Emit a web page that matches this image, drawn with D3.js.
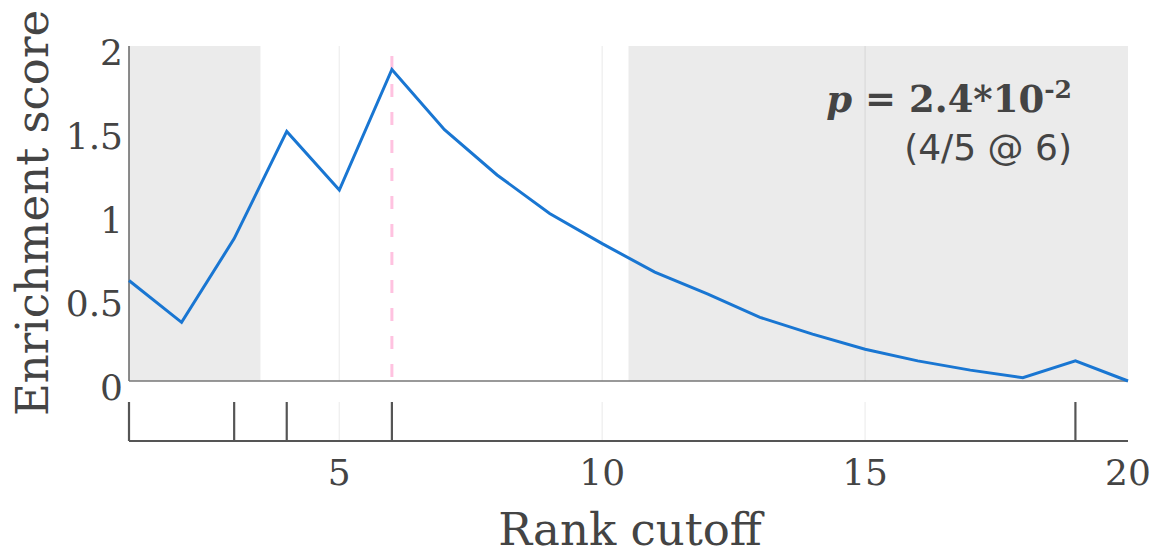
<!DOCTYPE html>
<html>
  <head>
    <meta charset="utf-8">
    <title>Enrichment score</title>
    <script src="https://cdn.jsdelivr.net/npm/d3@7"></script>
    <style>
      body { margin: 0; background: #fff; }
      text { font-family: "DejaVu Serif", serif; fill: #444; }
    </style>
  </head>
  <body>
    <svg id="chart" width="1153" height="550"></svg>
    <script>
      // data
      var ranks = d3.range(1, 21);
      var scores = [0.60, 0.35, 0.85, 1.49, 1.14, 1.86, 1.50, 1.23, 1.00, 0.82,
                    0.65, 0.52, 0.38, 0.28, 0.19, 0.12, 0.065, 0.02, 0.12, 0];
      var hits = [1, 3, 4, 6, 19];
      var shaded = [[1, 3.5], [10.5, 20]];
      var cutoff = 6;
      var xTicks = [5, 10, 15, 20];
      var yTicks = [0, 0.5, 1, 1.5, 2];

      var svg = d3.select("#chart");
      var plotLeft = 129, plotRight = 1128, plotTop = 46, plotBottom = 381;
      var rugTop = 402, rugBottom = 441;

      var x = d3.scaleLinear().domain([1, 20]).range([plotLeft, plotRight]);
      var y = d3.scaleLinear().domain([0, 2]).range([plotBottom, plotTop]);

      // shaded regions
      svg.selectAll(".shade")
        .data(shaded)
        .enter().append("rect")
          .attr("x", function(d) { return x(d[0]); })
          .attr("width", function(d) { return x(d[1]) - x(d[0]); })
          .attr("y", plotTop)
          .attr("height", plotBottom - plotTop)
          .style("fill", "#ebebeb");

      // vertical gridlines, plot and rug
      [[plotTop, plotBottom], [rugTop, rugBottom]].forEach(function(r) {
        svg.selectAll(null)
          .data(xTicks.slice(0, 3))
          .enter().append("line")
            .attr("x1", function(d) { return x(d); })
            .attr("x2", function(d) { return x(d); })
            .attr("y1", r[0])
            .attr("y2", r[1])
            .style("stroke", "rgba(0,0,0,0.06)")
            .style("stroke-width", 1.5);
      });

      // cutoff line
      svg.append("line")
        .attr("x1", x(cutoff)).attr("x2", x(cutoff))
        .attr("y1", plotTop + 10).attr("y2", plotBottom)
        .style("stroke", "#ffc2e0")
        .style("stroke-width", 3)
        .style("stroke-dasharray", "13,15");

      // axes lines
      svg.append("line")
        .attr("x1", plotLeft).attr("x2", plotLeft)
        .attr("y1", plotTop).attr("y2", plotBottom)
        .style("stroke", "#666").style("stroke-width", 1.5);
      svg.append("line")
        .attr("x1", plotLeft).attr("x2", plotRight)
        .attr("y1", y(0)).attr("y2", y(0))
        .style("stroke", "#777").style("stroke-width", 1.5);

      // score line
      svg.append("path")
        .datum(ranks)
        .attr("d", d3.line()
          .x(function(d) { return x(d); })
          .y(function(d, i) { return y(scores[i]); }))
        .style("fill", "none")
        .style("stroke", "#1976d2")
        .style("stroke-width", 3)
        .style("stroke-linejoin", "miter");

      // rug of hits
      svg.selectAll(".hit")
        .data(hits)
        .enter().append("line")
          .attr("x1", function(d) { return x(d); })
          .attr("x2", function(d) { return x(d); })
          .attr("y1", rugTop)
          .attr("y2", rugBottom)
          .style("stroke", "#555")
          .style("stroke-width", 2.2);
      svg.append("line")
        .attr("x1", plotLeft).attr("x2", plotRight)
        .attr("y1", rugBottom).attr("y2", rugBottom)
        .style("stroke", "#555").style("stroke-width", 2);

      // tick labels
      svg.selectAll(".ytick")
        .data(yTicks)
        .enter().append("text")
          .attr("x", 123)
          .attr("y", function(d) { return y(d) + 19; })
          .attr("text-anchor", "end")
          .style("font-size", "36px")
          .text(function(d) { return d; });
      svg.selectAll(".xtick")
        .data(xTicks)
        .enter().append("text")
          .attr("x", function(d) { return x(d); })
          .attr("y", 485)
          .attr("text-anchor", "middle")
          .style("font-size", "36px")
          .text(function(d) { return d; });

      // axis titles
      svg.append("text")
        .attr("transform", "translate(48,213) rotate(-90)")
        .attr("text-anchor", "middle")
        .style("font-size", "45px")
        .text("Enrichment score");
      svg.append("text")
        .attr("x", 630)
        .attr("y", 545)
        .attr("text-anchor", "middle")
        .style("font-size", "45px")
        .text("Rank cutoff");

      // annotation
      var ann = svg.append("text")
        .attr("x", 1072)
        .attr("y", 112)
        .attr("text-anchor", "end")
        .style("font-size", "37px")
        .style("font-weight", "bold");
      ann.append("tspan").style("font-style", "italic").text("p");
      ann.append("tspan").text(" = 2.4*10");
      ann.append("tspan")
        .attr("dy", "-0.55em")
        .style("font-size", "25px")
        .text("-2");
      svg.append("text")
        .attr("x", 1072)
        .attr("y", 160)
        .attr("text-anchor", "end")
        .style("font-family", "'DejaVu Sans', sans-serif")
        .style("font-size", "36px")
        .text("(4/5 @ 6)");
    </script>
  </body>
</html>
